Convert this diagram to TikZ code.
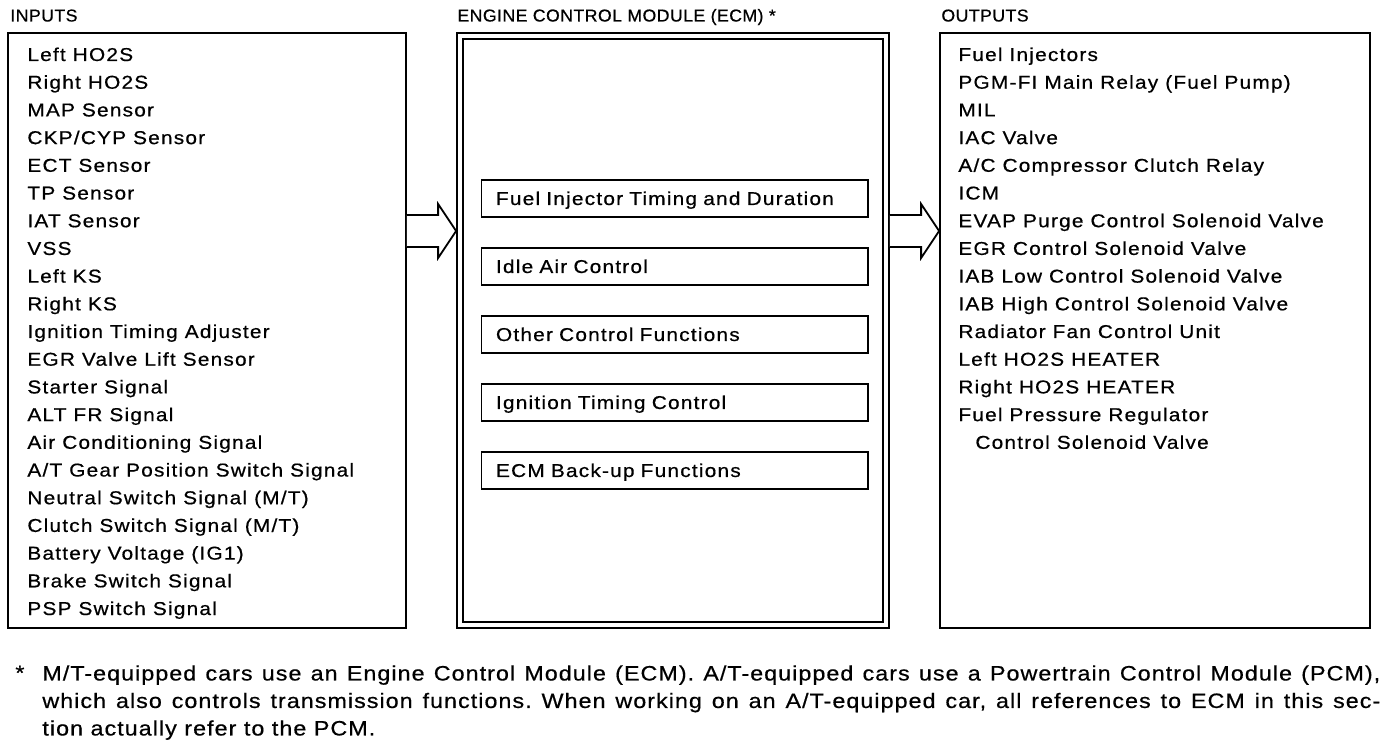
\documentclass[tikz,border=0pt]{standalone}
\usepackage{fontspec}
\setmainfont{Liberation Sans}
\newfontfamily\listfont{Liberation Sans}[FakeStretch=1.12,LetterSpace=6.5,FakeBold=0.6]
\newfontfamily\notefont{Liberation Sans}[FakeStretch=1.12,LetterSpace=5,FakeBold=0.6]
\newfontfamily\headfont{Liberation Sans}[FakeStretch=1.03,LetterSpace=2.5,FakeBold=0.6]
\usetikzlibrary{positioning,calc}
\tikzset{
  panel/.style={rectangle,draw,line width=0.9pt,inner sep=0pt},
  funcbox/.style={rectangle,draw,line width=0.9pt,minimum height=18.5pt,
    text width=178.75pt,inner xsep=7.25pt,inner ysep=0pt,align=left,
    text height=6.7pt,text depth=0pt,font=\listfont\fontsize{9.3}{13.85}\selectfont},
  listitem/.style={anchor=base west,inner sep=0pt,font=\listfont\fontsize{9.3}{13.85}\selectfont},
  headlabel/.style={anchor=base west,inner sep=0pt,font=\headfont\fontsize{8.6}{10}\selectfont},
  notetext/.style={inner sep=0pt,font=\notefont\fontsize{10.4}{13.75}\selectfont\frenchspacing},
  blockarrow/.style={draw,line width=0.9pt,fill=white,line join=miter},
}
\begin{document}
\begin{tikzpicture}[x=0.5pt,y=-0.5pt,node distance=14.6pt]
  \useasboundingbox (0,0) rectangle (1392,748);
  % column headings
  \node[headlabel] (inhead)  at (10,21.5)  {INPUTS};
  \node[headlabel] (ecmhead) at (457,21.5) {ENGINE CONTROL MODULE (ECM) *};
  \node[headlabel] (outhead) at (941,21.5) {OUTPUTS};
  % the three panels
  \node[panel,minimum width=199pt,minimum height=297.5pt] (inbox) at (207,330.5) {};
  \node[panel,minimum width=216pt,minimum height=297.5pt] (ecmout) at (673,330.5) {};
  \node[panel,minimum width=210pt,minimum height=291.5pt] (ecmin) at (673,330.5) {};
  \node[panel,minimum width=215pt,minimum height=297.5pt] (outbox) at (1155,330.5) {};
  % inputs
  \foreach \txt [count=\i from 0] in {Left HO2S, Right HO2S, MAP Sensor, CKP/CYP Sensor,
      ECT Sensor, TP Sensor, IAT Sensor, VSS, Left KS, Right KS, Ignition Timing Adjuster,
      EGR Valve Lift Sensor, Starter Signal, ALT FR Signal, Air Conditioning Signal,
      A/T Gear Position Switch Signal, Neutral Switch Signal (M/T), Clutch Switch Signal (M/T),
      Battery Voltage (IG1), Brake Switch Signal, PSP Switch Signal}
    \node[listitem] (in\i) at (27,{61+27.7*\i}) {\txt};
  % outputs
  \foreach \txt [count=\i from 0] in {Fuel Injectors, PGM-FI Main Relay (Fuel Pump), MIL,
      IAC Valve, A/C Compressor Clutch Relay, ICM, EVAP Purge Control Solenoid Valve,
      EGR Control Solenoid Valve, IAB Low Control Solenoid Valve,
      IAB High Control Solenoid Valve, Radiator Fan Control Unit, Left HO2S HEATER,
      Right HO2S HEATER, Fuel Pressure Regulator, {\hspace*{8.5pt}Control Solenoid Valve}}
    \node[listitem] (out\i) at (958,{61+27.7*\i}) {\txt};
  % ECM functions
  \node[funcbox] (inj) at (674.75,198.3) {Fuel Injector Timing and Duration};
  \node[funcbox,below=of inj] (iac) {Idle Air Control};
  \node[funcbox,below=of iac] (other) {Other Control Functions};
  \node[funcbox,below=of other] (ign) {Ignition Timing Control};
  \node[funcbox,below=of ign] (backup) {ECM Back-up Functions};
  % hollow arrows
  \coordinate (ia) at (inbox.east |- 0,231);
  \coordinate (ib) at (ecmout.west |- 0,231);
  \coordinate (oa) at (ecmout.east |- 0,231);
  \coordinate (ob) at (outbox.west |- 0,231);
  \draw[blockarrow] ($(ia)+(0,-16)$) -- ($(ib)+(-18,-16)$) -- ($(ib)+(-18,-27)$) -- (ib)
    -- ($(ib)+(-18,27)$) -- ($(ib)+(-18,16)$) -- ($(ia)+(0,16)$);
  \draw[blockarrow] ($(oa)+(0,-16)$) -- ($(ob)+(-18,-16)$) -- ($(ob)+(-18,-27)$) -- (ob)
    -- ($(ob)+(-18,27)$) -- ($(ob)+(-18,16)$) -- ($(oa)+(0,16)$);
  % footnote
  \node[notetext,anchor=base west] (star) at (15,680) {*};
  \node[notetext,anchor=north west,text width=669pt,align=justify] (note) at (42,665)
    {M/T-equipped cars use an Engine Control Module (ECM). A/T-equipped cars use a Powertrain Control Module (PCM),\linebreak
     which also controls transmission functions. When working on an A/T-equipped car, all references to ECM in this sec-\linebreak
     tion actually refer to the PCM.};
\end{tikzpicture}
\end{document}
